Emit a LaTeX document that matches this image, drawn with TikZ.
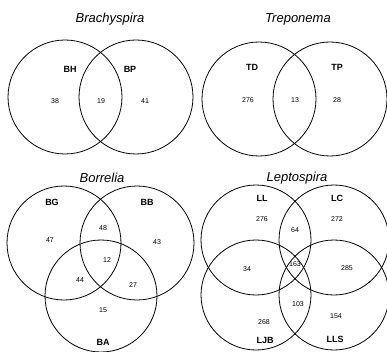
\documentclass[tikz,border=0pt]{standalone}
\usepackage{fontspec}
\setmainfont{Liberation Sans}
\begin{document}
\begin{tikzpicture}[
  x=1pt, y=-1pt,
  ring/.style={draw, circle, line width=0.8pt, inner sep=0pt, outer sep=0pt, minimum size=114pt},
  title/.style={font=\fontsize{13}{15}\selectfont\itshape},
  setlabel/.style={font=\fontsize{9}{11}\selectfont\bfseries},
  count/.style={font=\fontsize{7}{8}\selectfont}
]
\useasboundingbox (0,0) rectangle (387,352);

% Brachyspira
\node[title] (brachy) at (110,19) {Brachyspira};
\node[ring] (bhc) at (65,97) {};
\node[ring] (bpc) at (136,97) {};
\node[setlabel] (bh) at (70,69) {BH};
\node[setlabel] (bp) at (130,69) {BP};
\node[count] (bh1) at (55,101) {38};
\node[count] (bhbp) at (101,101) {19};
\node[count] (bp1) at (145,101) {41};

% Treponema
\node[title] (trepo) at (298,19) {Treponema};
\node[ring] (tdc) at (259,99) {};
\node[ring] (tpc) at (330,99) {};
\node[setlabel] (td) at (252,67) {TD};
\node[setlabel] (tp) at (337,67) {TP};
\node[count] (td1) at (248,100) {276};
\node[count] (tdtp) at (295,100) {13};
\node[count] (tp1) at (337,100) {28};

% Borrelia
\node[title] (borr) at (102,178) {Borrelia};
\node[ring] (bgc) at (64,243) {};
\node[ring] (bbc) at (137,243) {};
\node[ring, minimum size=112pt] (bac) at (101,296) {};
\node[setlabel] (bg) at (52,202) {BG};
\node[setlabel] (bb) at (147,202) {BB};
\node[setlabel] (ba) at (103,342) {BA};
\node[count] (bg1) at (50,240) {47};
\node[count] (bgbb) at (103,228) {48};
\node[count] (bb1) at (157,242) {43};
\node[count] (bgbbba) at (107,260) {12};
\node[count] (bgba) at (80,280) {44};
\node[count] (bbba) at (133,285) {27};
\node[count] (ba1) at (103,310) {15};

% Leptospira
\node[title] (lepto) at (297,178) {Leptospira};
\node[ring, minimum size=110pt] (llc) at (256,240) {};
\node[ring, minimum size=110pt] (lcc) at (334,240) {};
\node[ring, minimum size=110pt] (ljbc) at (256,295) {};
\node[ring, minimum size=110pt] (llsc) at (334,295) {};
\node[setlabel] (ll) at (262,198) {LL};
\node[setlabel] (lc) at (337,198) {LC};
\node[setlabel] (ljb) at (265,340) {LJB};
\node[setlabel] (lls) at (335,339) {LLS};
\node[count] (ll1) at (262,219) {276};
\node[count] (lc1) at (337,219) {272};
\node[count] (lllc) at (295,230) {64};
\node[count] (llljb) at (247,269) {34};
\node[count] (lall) at (295,264) {163};
\node[count] (lclls) at (347,268) {285};
\node[count] (ljblls) at (298,304) {103};
\node[count] (ljb1) at (264,322) {268};
\node[count] (lls1) at (336,316) {154};

\end{tikzpicture}
\end{document}
